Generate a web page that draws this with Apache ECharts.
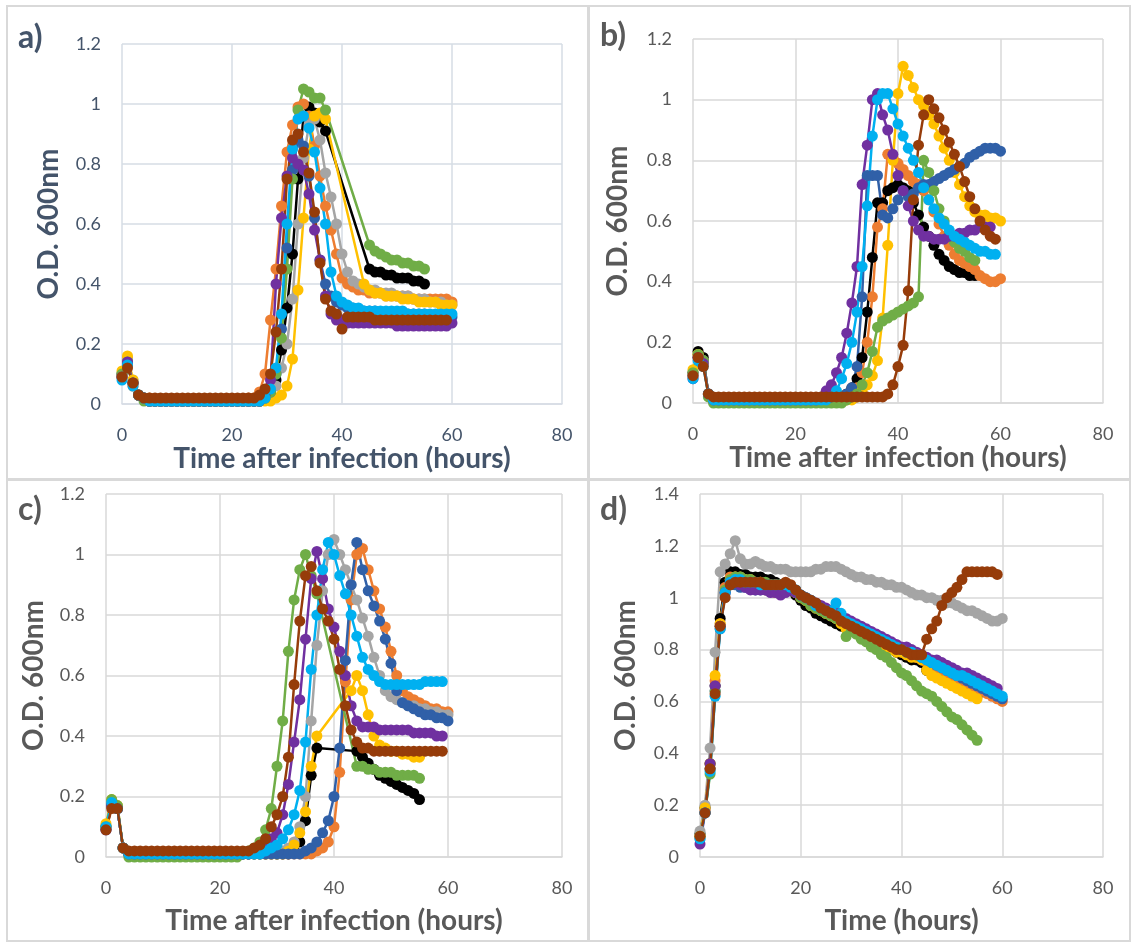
<!DOCTYPE html>
<html>
<head>
<meta charset="utf-8">
<script src="https://cdn.jsdelivr.net/npm/echarts@6/dist/echarts.min.js"></script>
<style>
  html, body { margin: 0; padding: 0; background: #ffffff; }
  #chart { width: 1133px; height: 944px; }
</style>
</head>
<body>
<div id="chart"></div>
<script>
// sampling times (hours), shared by every series
const hours = [
  0, 1, 2, 3, 4, 5, 6, 7, 8, 9,
  10, 11, 12, 13, 14, 15, 16, 17, 18, 19,
  20, 21, 22, 23, 24, 25, 26, 27, 28, 29,
  30, 31, 32, 33, 34, 35, 36, 37, 38, 39,
  40, 41, 42, 43, 44, 45, 46, 47, 48, 49,
  50, 51, 52, 53, 54, 55, 56, 57, 58, 59,
  60
];

const xTicks = [0, 20, 40, 60, 80];

// ---- panel a ----
const aBlack = [
  0.10,0.14,0.07,0.03,0.02,0.01,0.01,0.01,0.01,0.01,
  0.01,0.01,0.01,0.01,0.01,0.01,0.01,0.01,0.01,0.01,
  0.01,0.01,0.01,0.01,0.01,0.01,0.02,0.04,0.08,0.18,
  0.32,0.50,0.75,0.96,0.99,0.97,0.94,0.91,null,null,
  null,null,null,null,null,0.45,0.44,0.44,0.43,0.43,
  0.42,0.42,0.42,0.41,0.41,0.40,null,null,null,null,
  null];
const aOrange = [
  0.09,0.15,0.06,0.03,0.02,0.02,0.01,0.01,0.01,0.01,
  0.01,0.01,0.01,0.01,0.01,0.01,0.01,0.01,0.01,0.01,
  0.01,0.01,0.01,0.02,0.02,0.04,0.10,0.28,0.45,0.66,
  0.84,0.93,0.99,1.00,0.96,0.86,0.76,0.66,0.58,0.50,
  0.42,0.40,0.39,0.38,0.38,0.37,0.37,0.37,0.36,0.36,
  0.36,0.36,0.36,0.35,0.35,0.35,0.35,0.35,0.35,0.35,
  0.34];
const aGray = [
  0.10,0.15,0.08,0.03,0.02,0.01,0.01,0.01,0.01,0.01,
  0.01,0.01,0.01,0.01,0.01,0.01,0.01,0.01,0.01,0.01,
  0.01,0.01,0.01,0.01,0.01,0.01,0.02,0.03,0.06,0.12,
  0.20,0.35,0.60,0.82,0.93,0.95,0.88,0.77,0.69,0.60,
  0.50,0.44,0.41,0.40,0.39,0.38,0.38,0.37,0.37,0.37,
  0.36,0.36,0.36,0.35,0.35,0.35,0.34,0.34,0.34,0.33,
  0.33];
const aYellow = [
  0.11,0.16,0.08,0.03,0.02,0.01,0.01,0.01,0.01,0.01,
  0.01,0.01,0.01,0.01,0.01,0.01,0.01,0.01,0.01,0.01,
  0.01,0.01,0.01,0.01,0.01,0.01,0.01,0.01,0.02,0.03,
  0.06,0.15,0.38,0.62,0.85,0.96,0.97,0.95,null,null,
  null,null,null,null,0.40,0.38,0.37,0.37,0.36,0.36,
  0.36,0.35,0.35,0.35,0.34,0.34,0.34,0.34,0.33,0.33,
  0.33];
const aDarkBlue = [
  0.09,0.13,0.07,0.03,0.02,0.01,0.01,0.01,0.01,0.01,
  0.01,0.01,0.01,0.01,0.01,0.01,0.01,0.01,0.01,0.01,
  0.01,0.01,0.01,0.01,0.01,0.01,0.02,0.04,0.10,0.25,
  0.52,0.78,0.88,0.86,0.76,0.62,0.48,0.40,0.36,0.34,
  0.33,0.32,0.32,0.31,0.31,0.31,0.31,0.30,0.30,0.30,
  0.30,0.30,0.30,0.30,0.30,0.30,0.29,0.29,0.29,0.29,
  0.29];
const aGreen = [
  0.10,0.14,0.07,0.03,0.01,0.01,0.01,0.01,0.01,0.01,
  0.01,0.01,0.01,0.01,0.01,0.01,0.01,0.01,0.01,0.01,
  0.01,0.01,0.01,0.01,0.01,0.01,0.02,0.04,0.10,0.22,
  0.45,0.75,0.98,1.05,1.04,1.02,1.02,0.98,null,null,
  null,null,null,null,null,0.53,0.51,0.50,0.49,0.48,
  0.48,0.47,0.47,0.46,0.46,0.45,null,null,null,null,
  null];
const aPurple = [
  0.09,0.14,0.07,0.03,0.02,0.01,0.01,0.01,0.01,0.01,
  0.01,0.01,0.01,0.01,0.01,0.01,0.01,0.01,0.01,0.01,
  0.01,0.01,0.01,0.01,0.01,0.01,0.03,0.08,0.40,0.62,
  0.76,0.82,0.80,0.78,0.70,0.58,0.48,0.36,0.30,0.28,
  0.28,0.27,0.27,0.27,0.27,0.27,0.27,0.27,0.27,0.27,
  0.26,0.26,0.26,0.26,0.26,0.26,0.26,0.26,0.26,0.26,
  0.27];
const aCyan = [
  0.08,0.13,0.06,0.03,0.02,0.01,0.01,0.01,0.01,0.01,
  0.01,0.01,0.01,0.01,0.01,0.01,0.01,0.01,0.01,0.01,
  0.01,0.01,0.01,0.01,0.01,0.01,0.02,0.05,0.12,0.30,
  0.60,0.85,0.95,0.96,0.92,0.84,0.72,0.60,0.44,0.36,
  0.34,0.33,0.32,0.32,0.31,0.31,0.31,0.31,0.31,0.31,
  0.31,0.31,0.30,0.30,0.30,0.30,0.30,0.30,0.30,0.30,
  0.30];
const aBrown = [
  0.09,0.12,0.07,0.03,0.02,0.02,0.02,0.02,0.02,0.02,
  0.02,0.02,0.02,0.02,0.02,0.02,0.02,0.02,0.02,0.02,
  0.02,0.02,0.02,0.02,0.02,0.03,0.05,0.10,0.24,0.45,
  0.75,0.88,0.90,0.84,0.77,0.64,0.47,0.35,0.31,0.30,
  0.25,0.29,0.29,0.29,0.29,0.29,0.28,0.28,0.28,0.28,
  0.28,0.28,0.28,0.28,0.28,0.28,0.28,0.28,0.28,0.28,
  null];

// ---- panel b ----
const bBlack = [
  0.10,0.17,0.15,0.03,0.01,0.01,0.01,0.01,0.01,0.01,
  0.01,0.01,0.01,0.01,0.01,0.01,0.01,0.01,0.01,0.01,
  0.01,0.01,0.01,0.01,0.01,0.01,0.01,0.01,0.02,0.02,
  0.03,0.05,0.08,0.15,0.30,0.48,0.66,0.66,0.70,0.71,
  0.72,0.71,0.70,0.66,0.62,0.58,0.55,0.52,0.49,0.47,
  0.45,0.44,0.43,0.43,0.42,0.42,null,null,null,null,
  null];
const bOrange = [
  0.09,0.16,0.13,0.03,0.01,0.01,0.01,0.01,0.01,0.01,
  0.01,0.01,0.01,0.01,0.01,0.01,0.01,0.01,0.01,0.01,
  0.01,0.01,0.01,0.01,0.01,0.01,0.01,0.01,0.01,0.02,
  0.02,0.03,0.05,0.10,0.20,0.35,0.58,0.64,0.82,0.81,
  0.79,0.77,0.75,0.73,0.72,0.70,0.67,0.63,0.59,0.55,
  0.52,0.49,0.47,0.46,0.45,0.44,0.42,0.41,0.40,0.40,
  0.41];
const bYellow = [
  0.11,0.16,0.14,0.03,0.01,0.01,0.01,0.01,0.01,0.01,
  0.01,0.01,0.01,0.01,0.01,0.01,0.01,0.01,0.01,0.01,
  0.01,0.01,0.01,0.01,0.01,0.01,0.01,0.01,0.01,0.01,
  0.01,0.01,0.02,0.04,0.06,0.09,0.14,0.28,0.52,0.80,
  1.02,1.11,1.08,1.04,1.00,0.98,0.95,0.92,0.88,0.84,
  0.80,0.76,0.72,0.68,0.65,0.63,0.62,0.62,0.61,0.61,
  0.60];
const bDarkBlue = [
  0.09,0.15,0.14,0.03,0.01,0.01,0.01,0.01,0.01,0.01,
  0.01,0.01,0.01,0.01,0.01,0.01,0.01,0.01,0.01,0.01,
  0.01,0.01,0.01,0.01,0.01,0.01,0.01,0.01,0.02,0.02,
  0.03,0.05,0.12,0.35,0.75,0.75,0.75,0.62,0.61,0.64,
  0.67,0.70,0.68,0.69,0.71,0.72,0.72,0.73,0.74,0.75,
  0.76,0.77,0.78,0.79,0.81,0.82,0.83,0.84,0.84,0.84,
  0.83];
const bGreen = [
  0.10,0.16,0.14,0.02,0.00,0.00,0.00,0.00,0.00,0.00,
  0.00,0.00,0.00,0.00,0.00,0.00,0.00,0.00,0.00,0.00,
  0.00,0.00,0.00,0.00,0.00,0.00,0.00,0.00,0.00,0.00,
  0.01,0.02,0.03,0.06,0.10,0.17,0.25,0.27,0.28,0.29,
  0.30,0.31,0.32,0.33,0.35,0.80,0.76,0.70,0.64,0.60,
  0.56,0.53,0.51,0.50,0.48,0.47,null,null,null,null,
  null];
const bPurple = [
  0.08,0.15,0.13,0.03,0.01,0.01,0.01,0.01,0.01,0.01,
  0.01,0.01,0.01,0.01,0.01,0.01,0.01,0.01,0.01,0.01,
  0.01,0.01,0.01,0.01,0.01,0.02,0.04,0.06,0.10,0.15,
  0.23,0.33,0.45,0.72,0.85,1.00,1.02,0.95,0.90,0.82,
  0.75,0.70,0.65,0.60,0.57,0.55,0.55,0.54,0.54,0.54,
  0.55,0.55,0.56,0.56,0.57,0.57,0.58,0.58,0.58,null,
  null];
const bCyan = [
  0.08,0.14,0.12,0.03,0.01,0.01,0.01,0.01,0.01,0.01,
  0.01,0.01,0.01,0.01,0.01,0.01,0.01,0.01,0.01,0.01,
  0.01,0.01,0.01,0.01,0.01,0.01,0.01,0.02,0.04,0.08,
  0.13,0.20,0.30,0.45,0.65,0.88,1.00,1.02,1.02,0.97,
  0.92,0.88,0.84,0.80,0.76,0.71,0.67,0.64,0.61,0.59,
  0.57,0.55,0.54,0.53,0.52,0.51,0.50,0.50,0.49,0.49,
  null];
const bBrown = [
  0.09,0.15,0.12,0.03,0.02,0.02,0.02,0.02,0.02,0.02,
  0.02,0.02,0.02,0.02,0.02,0.02,0.02,0.02,0.02,0.02,
  0.02,0.02,0.02,0.02,0.02,0.02,0.02,0.02,0.02,0.02,
  0.02,0.02,0.02,0.02,0.02,0.02,0.02,0.02,0.03,0.06,
  0.12,0.19,0.37,0.67,0.85,0.95,1.00,0.97,0.94,0.90,
  0.86,0.82,0.78,0.73,0.68,0.64,0.60,0.57,0.55,0.54,
  null];

// ---- panel c ----
const cBlack = [
  0.10,0.18,0.16,0.03,0.01,0.01,0.01,0.01,0.01,0.01,
  0.01,0.01,0.01,0.01,0.01,0.01,0.01,0.01,0.01,0.01,
  0.01,0.01,0.01,0.01,0.01,0.01,0.01,0.01,0.01,0.01,
  0.01,0.01,0.01,0.02,0.05,0.12,0.27,0.36,null,null,
  null,null,null,null,0.35,0.33,0.31,0.29,0.27,0.26,
  0.25,0.24,0.23,0.22,0.21,0.19,null,null,null,null,
  null];
const cOrange = [
  0.09,0.17,0.16,0.03,0.01,0.01,0.01,0.01,0.01,0.01,
  0.01,0.01,0.01,0.01,0.01,0.01,0.01,0.01,0.01,0.01,
  0.01,0.01,0.01,0.01,0.01,0.01,0.01,0.01,0.01,0.01,
  0.01,0.01,0.01,0.01,0.01,0.01,0.01,0.02,0.03,0.05,
  0.10,0.28,0.58,0.85,1.00,1.02,0.95,0.88,0.82,0.76,
  0.68,0.60,0.55,0.53,0.52,0.51,0.50,0.49,0.49,0.48,
  0.48];
const cGray = [
  0.10,0.18,0.16,0.03,0.01,0.01,0.01,0.01,0.01,0.01,
  0.01,0.01,0.01,0.01,0.01,0.01,0.01,0.01,0.01,0.01,
  0.01,0.01,0.01,0.01,0.01,0.01,0.01,0.01,0.01,0.01,
  0.01,0.02,0.03,0.05,0.10,0.20,0.45,0.70,0.88,1.00,
  1.05,1.00,0.95,0.90,0.85,0.79,0.73,0.66,0.60,0.55,
  0.53,0.52,0.51,0.50,0.50,0.49,0.49,0.48,0.48,0.47,
  0.47];
const cYellow = [
  0.11,0.19,0.17,0.03,0.01,0.01,0.01,0.01,0.01,0.01,
  0.01,0.01,0.01,0.01,0.01,0.01,0.01,0.01,0.01,0.01,
  0.01,0.01,0.01,0.01,0.01,0.01,0.01,0.01,0.01,0.01,
  0.01,0.01,0.02,0.04,0.08,0.15,0.30,0.40,null,null,
  null,null,null,0.55,0.60,0.55,0.47,0.40,0.37,0.36,
  0.35,0.35,0.34,0.34,0.33,0.33,null,null,null,null,
  null];
const cDarkBlue = [
  0.09,0.17,0.16,0.03,0.01,0.01,0.01,0.01,0.01,0.01,
  0.01,0.01,0.01,0.01,0.01,0.01,0.01,0.01,0.01,0.01,
  0.01,0.01,0.01,0.01,0.01,0.01,0.01,0.01,0.01,0.01,
  0.01,0.01,0.01,0.01,0.01,0.02,0.03,0.05,0.08,0.12,
  0.20,0.36,0.65,0.90,1.04,0.95,0.88,0.83,0.78,0.72,
  0.64,0.55,0.51,0.50,0.49,0.48,0.47,0.47,0.46,0.46,
  0.45];
const cGreen = [
  0.10,0.19,0.17,0.03,0.00,0.00,0.00,0.00,0.00,0.00,
  0.00,0.00,0.00,0.00,0.00,0.00,0.00,0.00,0.00,0.00,
  0.00,0.00,0.00,0.00,0.01,0.02,0.03,0.05,0.09,0.16,
  0.30,0.45,0.68,0.85,0.95,1.00,0.93,0.87,null,null,
  null,null,null,null,0.30,0.30,0.29,0.29,0.28,0.28,
  0.28,0.27,0.27,0.27,0.27,0.26,null,null,null,null,
  null];
const cPurple = [
  0.09,0.17,0.16,0.03,0.01,0.01,0.01,0.01,0.01,0.01,
  0.01,0.01,0.01,0.01,0.01,0.01,0.01,0.01,0.01,0.01,
  0.01,0.01,0.01,0.01,0.01,0.01,0.02,0.03,0.04,0.06,
  0.08,0.14,0.24,0.38,0.52,0.72,0.92,1.01,0.92,0.82,
  0.76,0.68,0.60,0.50,0.45,0.43,0.43,0.43,0.42,0.42,
  0.42,0.42,0.42,0.42,0.41,0.41,0.41,0.41,0.40,0.40,
  null];
const cCyan = [
  0.10,0.18,0.16,0.03,0.01,0.01,0.01,0.01,0.01,0.01,
  0.01,0.01,0.01,0.01,0.01,0.01,0.01,0.01,0.01,0.01,
  0.01,0.01,0.01,0.01,0.01,0.01,0.01,0.01,0.02,0.03,
  0.04,0.06,0.09,0.14,0.22,0.38,0.62,0.80,0.95,1.04,
  1.00,0.93,0.87,0.80,0.73,0.66,0.62,0.60,0.58,0.57,
  0.57,0.57,0.57,0.57,0.57,0.57,0.58,0.58,0.58,0.58,
  null];
const cBrown = [
  0.09,0.16,0.16,0.03,0.02,0.02,0.02,0.02,0.02,0.02,
  0.02,0.02,0.02,0.02,0.02,0.02,0.02,0.02,0.02,0.02,
  0.02,0.02,0.02,0.02,0.02,0.02,0.03,0.04,0.06,0.10,
  0.14,0.20,0.33,0.57,0.78,0.93,0.96,0.88,0.82,0.78,
  0.72,0.62,0.50,0.42,0.38,0.36,0.36,0.35,0.35,0.35,
  0.35,0.35,0.35,0.35,0.35,0.35,0.35,0.35,0.35,0.35,
  null];

// ---- panel d ----
const dBlack = [
  0.09,0.19,0.36,0.66,0.92,1.06,1.10,1.10,1.09,1.09,
  1.08,1.08,1.08,1.07,1.07,1.06,1.05,1.04,1.03,1.01,
  0.99,0.97,0.96,0.94,0.93,0.92,0.91,0.90,0.89,0.89,
  0.88,0.87,0.86,0.85,0.84,0.83,0.82,0.81,0.80,0.79,
  0.78,0.77,0.76,0.76,0.75,0.72,0.71,0.70,0.69,0.68,
  0.67,0.66,0.65,0.64,0.63,0.62,null,null,null,null,
  null];
const dOrange = [
  0.08,0.18,0.34,0.68,0.90,1.04,1.08,1.08,1.07,1.06,
  1.05,1.04,1.04,1.03,1.03,1.02,1.03,1.04,1.04,1.02,
  1.00,0.99,0.98,0.96,0.95,0.94,0.93,0.92,0.91,0.90,
  0.89,0.88,0.87,0.86,0.85,0.84,0.83,0.82,0.81,0.80,
  0.79,0.78,0.78,0.77,0.76,0.75,0.74,0.73,0.72,0.71,
  0.70,0.69,0.68,0.67,0.66,0.65,0.64,0.63,0.62,0.61,
  0.60];
const dGray = [
  0.10,0.20,0.42,0.79,1.10,1.13,1.17,1.22,1.15,1.13,
  1.13,1.14,1.13,1.12,1.12,1.11,1.11,1.11,1.10,1.10,
  1.10,1.10,1.10,1.11,1.11,1.12,1.12,1.12,1.11,1.10,
  1.09,1.08,1.08,1.07,1.07,1.06,1.06,1.05,1.05,1.04,
  1.04,1.03,1.02,1.01,1.01,1.00,1.00,0.99,0.99,0.98,
  0.98,0.97,0.96,0.95,0.95,0.94,0.93,0.92,0.91,0.91,
  0.92];
const dYellow = [
  0.08,0.19,0.36,0.70,0.90,1.03,1.07,1.08,1.08,1.07,
  1.07,1.06,1.06,1.05,1.05,1.05,1.05,1.05,1.04,1.02,
  1.00,0.99,0.97,0.96,0.95,0.94,0.93,0.92,0.90,0.88,
  0.88,0.87,0.86,0.85,0.84,0.83,0.82,0.81,0.80,0.79,
  0.79,0.78,0.77,0.77,0.76,0.72,0.70,0.69,0.68,0.67,
  0.66,0.65,0.64,0.63,0.62,0.61,null,null,null,null,
  null];
const dDarkBlue = [
  0.07,0.17,0.34,0.64,0.88,1.02,1.05,1.05,1.04,1.04,
  1.04,1.03,1.03,1.03,1.03,1.04,1.04,1.05,1.04,1.03,
  1.01,1.00,0.99,0.97,0.96,0.95,0.94,0.93,0.92,0.91,
  0.90,0.89,0.88,0.87,0.86,0.85,0.84,0.83,0.82,0.81,
  0.80,0.80,0.79,0.78,0.77,0.76,0.75,0.74,0.73,0.72,
  0.71,0.70,0.69,0.68,0.67,0.66,0.65,0.64,0.63,0.62,
  0.61];
const dGreen = [
  0.08,0.17,0.32,0.64,0.89,1.03,1.07,1.08,1.08,1.07,
  1.07,1.06,1.06,1.06,1.05,1.05,1.05,1.05,1.04,1.02,
  1.00,0.99,0.97,0.96,0.95,0.94,0.93,0.92,0.91,0.85,
  0.87,0.86,0.84,0.83,0.81,0.80,0.78,0.77,0.75,0.73,
  0.71,0.70,0.68,0.66,0.64,0.63,0.62,0.60,0.58,0.56,
  0.54,0.53,0.51,0.49,0.47,0.45,null,null,null,null,
  null];
const dPurple = [
  0.05,0.17,0.36,0.66,0.89,1.02,1.06,1.06,1.05,1.04,
  1.03,1.03,1.03,1.03,1.02,1.02,1.01,1.02,1.03,1.02,
  1.01,1.00,0.99,0.98,0.97,0.96,0.95,0.94,0.93,0.92,
  0.91,0.90,0.89,0.88,0.87,0.86,0.85,0.84,0.83,0.82,
  0.81,0.81,0.80,0.79,0.78,0.77,0.76,0.76,0.75,0.74,
  0.73,0.72,0.71,0.71,0.70,0.69,0.68,0.67,0.66,0.65,
  null];
const dCyan = [
  0.07,0.17,0.33,0.62,0.88,1.02,1.06,1.07,1.07,1.06,
  1.06,1.06,1.05,1.05,1.05,1.05,1.05,1.05,1.04,1.03,
  1.01,1.00,0.99,0.97,0.96,0.95,0.95,0.98,0.94,0.91,
  0.90,0.89,0.88,0.87,0.86,0.85,0.84,0.83,0.82,0.81,
  0.80,0.79,0.79,0.78,0.77,0.76,0.75,0.74,0.73,0.72,
  0.71,0.70,0.70,0.69,0.68,0.67,0.66,0.65,0.64,0.63,
  0.62];
const dBrown = [
  0.08,0.17,0.34,0.63,0.89,1.00,1.05,1.06,1.06,1.06,
  1.06,1.06,1.06,1.05,1.05,1.05,1.05,1.06,1.05,1.03,
  1.01,1.00,0.99,0.98,0.96,0.95,0.94,0.93,0.91,0.90,
  0.89,0.88,0.87,0.86,0.85,0.84,0.83,0.82,0.81,0.80,
  0.80,0.79,0.78,0.78,0.78,0.84,0.88,0.91,0.97,1.00,
  1.02,1.04,1.07,1.10,1.10,1.10,1.10,1.10,1.10,1.09,
  null];

const colors = {
  black: '#000000', orange: '#ED7D31', gray: '#A5A5A5', yellow: '#FFC000',
  darkBlue: '#3060A8', green: '#70AD47', purple: '#7030A0', cyan: '#00B0F0',
  brown: '#963C0A'
};

const panelSeries = [
  [['black', aBlack], ['orange', aOrange], ['gray', aGray], ['yellow', aYellow],
   ['darkBlue', aDarkBlue], ['green', aGreen], ['purple', aPurple], ['cyan', aCyan], ['brown', aBrown]],
  [['black', bBlack], ['orange', bOrange], ['yellow', bYellow], ['darkBlue', bDarkBlue],
   ['green', bGreen], ['purple', bPurple], ['cyan', bCyan], ['brown', bBrown]],
  [['black', cBlack], ['orange', cOrange], ['gray', cGray], ['yellow', cYellow],
   ['darkBlue', cDarkBlue], ['green', cGreen], ['purple', cPurple], ['cyan', cCyan], ['brown', cBrown]],
  [['black', dBlack], ['orange', dOrange], ['gray', dGray], ['yellow', dYellow],
   ['darkBlue', dDarkBlue], ['green', dGreen], ['purple', dPurple], ['cyan', dCyan], ['brown', dBrown]]
];

// layout of the four panels
const panels = [
  { letter: 'a)', lx: 18, ly: 22, grid: { left: 122, top: 44, width: 440, height: 360 },
    yMax: 1.2, xName: 'Time after infection (hours)', ink: '#44546A', gridInk: '#D6DCE5',
    xGap: 39, yGap: 59 },
  { letter: 'b)', lx: 600, ly: 20, grid: { left: 693, top: 39, width: 410, height: 364 },
    yMax: 1.2, xName: 'Time after infection (hours)', ink: '#595959', gridInk: '#D9D9D9',
    xGap: 40, yGap: 61 },
  { letter: 'c)', lx: 18, ly: 494, grid: { left: 106, top: 494, width: 456, height: 363 },
    yMax: 1.2, xName: 'Time after infection (hours)', ink: '#595959', gridInk: '#D9D9D9',
    xGap: 50, yGap: 58 },
  { letter: 'd)', lx: 600, ly: 494, grid: { left: 700, top: 494, width: 403, height: 363 },
    yMax: 1.4, xName: 'Time (hours)', ink: '#595959', gridInk: '#D9D9D9',
    xGap: 50, yGap: 60 }
];

const FONT = 'Lato, "Open Sans", sans-serif';

const grids = [], xAxes = [], yAxes = [], series = [], graphics = [];

const boxes = [
  { x: 7, y: 6, w: 581, h: 473 },
  { x: 589, y: 6, w: 541, h: 473 },
  { x: 7, y: 480, w: 581, h: 461 },
  { x: 589, y: 480, w: 541, h: 461 }
];
boxes.forEach(b => {
  graphics.push({
    type: 'rect', shape: { x: b.x, y: b.y, width: b.w, height: b.h },
    style: { fill: 'none', stroke: '#D9D9D9', lineWidth: 2 }, silent: true
  });
});

panels.forEach((p, i) => {
  grids.push(Object.assign({ containLabel: false }, p.grid));
  xAxes.push({
    type: 'value', gridIndex: i, min: xTicks[0], max: xTicks[xTicks.length - 1], interval: 20,
    name: p.xName, nameLocation: 'middle', nameGap: p.xGap,
    nameTextStyle: { fontFamily: FONT, fontSize: 28, fontWeight: 'bold', color: p.ink },
    axisLine: { show: true, lineStyle: { color: p.gridInk, width: 1.5 } },
    axisTick: { show: false },
    axisLabel: { fontFamily: FONT, fontSize: 18, color: p.ink, margin: 22 },
    splitLine: { show: true, lineStyle: { color: p.gridInk, width: 1.5 } }
  });
  yAxes.push({
    type: 'value', gridIndex: i, min: 0, max: p.yMax, interval: 0.2,
    name: 'O.D. 600nm', nameLocation: 'middle', nameGap: p.yGap, nameRotate: 90,
    nameTextStyle: { fontFamily: FONT, fontSize: 28, fontWeight: 'bold', color: p.ink },
    axisLine: { show: false },
    axisTick: { show: false },
    axisLabel: { fontFamily: FONT, fontSize: 18, color: p.ink, margin: 21 },
    splitLine: { show: true, lineStyle: { color: p.gridInk, width: 1.5 } }
  });
  graphics.push({
    type: 'text', left: p.lx, top: p.ly, silent: true,
    style: { text: p.letter, font: 'bold 32px ' + FONT, fill: p.ink }
  });
  panelSeries[i].forEach(([key, vals]) => {
    series.push({
      type: 'line', xAxisIndex: i, yAxisIndex: i,
      data: hours.map((h, k) => [h, vals[k]]).filter(pt => pt[1] !== null),
      symbol: 'circle', symbolSize: 11, showAllSymbol: true,
      lineStyle: { color: colors[key], width: 2.5 },
      itemStyle: { color: colors[key] },
      emphasis: { disabled: true }
    });
  });
});

const chart = echarts.init(document.getElementById('chart'), null, { renderer: 'canvas' });
chart.setOption({
  animation: false,
  backgroundColor: '#ffffff',
  grid: grids,
  xAxis: xAxes,
  yAxis: yAxes,
  series: series,
  graphic: graphics
});
</script>
</body>
</html>
